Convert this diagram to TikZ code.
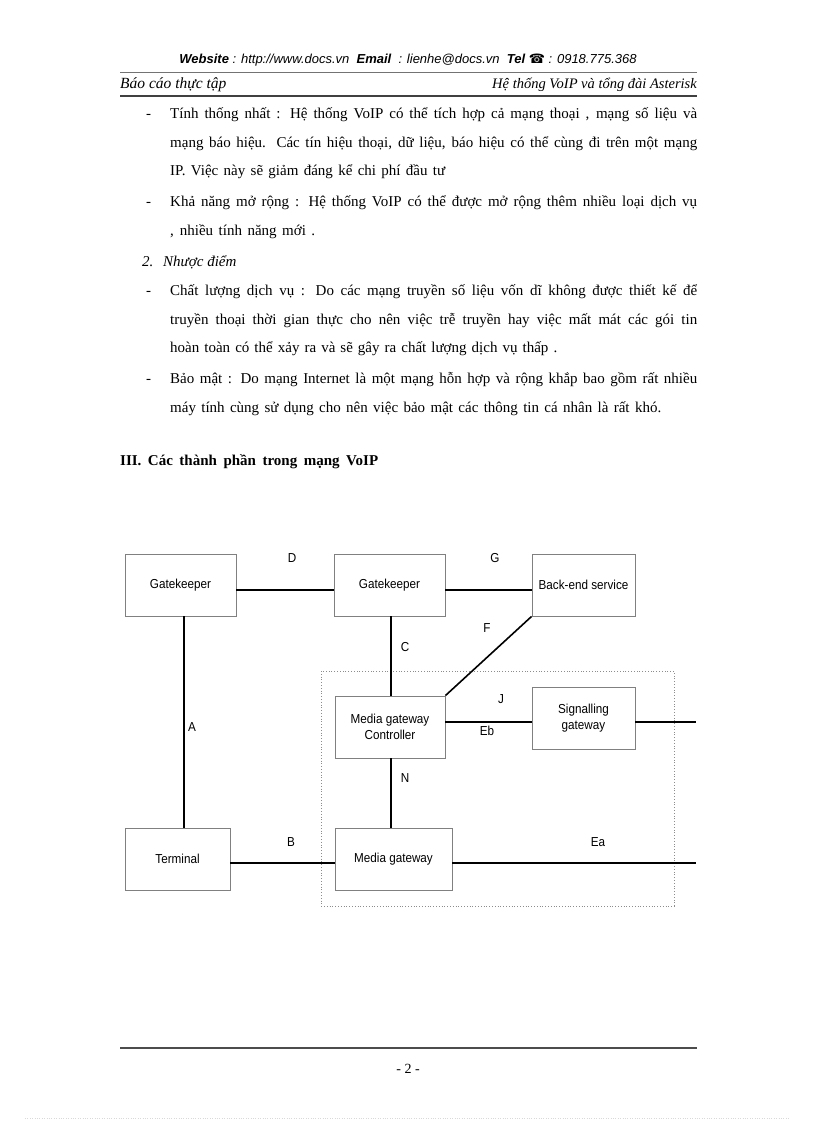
\documentclass[tikz,border=0pt]{standalone}
\usepackage{fontspec}
\setmainfont{Liberation Serif}
\newfontfamily\diagfont[FakeStretch=0.9]{Liberation Sans}
\newfontfamily\hdrfont{Liberation Sans}
\newfontfamily\symfont{DejaVu Sans}
\begin{document}
\begin{tikzpicture}[x=1pt,y=-1pt,
  body/.style={anchor=base west,inner sep=0pt,font=\fontsize{15}{17}\selectfont},
  box/.style={draw=black!50,line width=0.8pt,inner sep=0pt,align=center,minimum height=62pt,font=\diagfont\fontsize{13}{15.5}\selectfont},
  lab/.style={inner sep=0pt,font=\diagfont\fontsize{13}{14}\selectfont},
  link/.style={line width=1.6pt,black}]
\useasboundingbox (0,0) rectangle (816,1123);
% header
\node[inner sep=0pt,font=\hdrfont\fontsize{13}{15}\selectfont\itshape] (web) at (408,60)
 {\bfseries Website\mdseries\ : http://www.docs.vn\ \ \bfseries Email\mdseries\ \ : lienhe@docs.vn\ \ \bfseries Tel \symfont☎\hdrfont\mdseries\ : 0918.775.368};
\coordinate (r1a) at (120,72); \coordinate (r1b) at (697,72);
\draw[line width=0.8pt,black!55] (r1a) -- (r1b);
\node[body,font=\fontsize{15.5}{17}\selectfont\itshape] (hl) at (120,89) {Báo cáo thực tập};
\node[anchor=base east,inner sep=0pt,font=\fontsize{14.5}{17}\selectfont\itshape] (hr) at (697,89) {Hệ thống VoIP và tổng đài Asterisk};
\coordinate (r2a) at (120,96); \coordinate (r2b) at (697,96);
\draw[line width=1.5pt,black!75] (r2a) -- (r2b);
% body text
\node[body] (d1) at (146,119) {-};
\node[body] (t1) at (170,119) {\makebox[527pt][s]{Tính thống nhất : Hệ thống VoIP có thể tích hợp cả mạng thoại , mạng số liệu và}};
\node[body] (t2) at (170,148) {\makebox[527pt][s]{mạng báo hiệu. Các tín hiệu thoại, dữ liệu, báo hiệu có thể cùng đi trên một mạng}};
\node[body] (t3) at (170,176) {\makebox[275pt][s]{IP. Việc này sẽ giảm đáng kể chi phí đầu tư}};
\node[body] (d2) at (146,207) {-};
\node[body] (t4) at (170,207) {\makebox[527pt][s]{Khả năng mở rộng : Hệ thống VoIP có thể được mở rộng thêm nhiều loại dịch vụ}};
\node[body] (t5) at (170,236) {\makebox[145pt][s]{, nhiều tính năng mới .}};
\node[body,font=\fontsize{15}{17}\selectfont\itshape] (n2) at (142,266) {2.};
\node[body,font=\fontsize{15}{17}\selectfont\itshape] (t6) at (163,266) {Nhược điểm};
\node[body] (d3) at (146,295) {-};
\node[body] (t7) at (170,295) {\makebox[527pt][s]{Chất lượng dịch vụ : Do các mạng truyền số liệu vốn dĩ không được thiết kế để}};
\node[body] (t8) at (170,324) {\makebox[527pt][s]{truyền thoại thời gian thực cho nên việc trễ truyền hay việc mất mát các gói tin}};
\node[body] (t9) at (170,352) {\makebox[387pt][s]{hoàn toàn có thể xảy ra và sẽ gây ra chất lượng dịch vụ thấp .}};
\node[body] (d4) at (146,383) {-};
\node[body] (t10) at (170,383) {\makebox[527pt][s]{Bảo mật : Do mạng Internet là một mạng hỗn hợp và rộng khắp bao gồm rất nhiều}};
\node[body] (t11) at (170,412) {\makebox[491pt][s]{máy tính cùng sử dụng cho nên việc bảo mật các thông tin cá nhân là rất khó.}};
\node[body,font=\fontsize{15}{17}\selectfont\bfseries] (h3) at (120,465) {\makebox[258pt][s]{III. Các thành phần trong mạng VoIP}};
% diagram
\draw[black!45,line width=0.8pt,dotted] (321,671) rectangle (674,906);
\node[box,minimum width=111pt] (gk1) at (180.5,585) {Gatekeeper};
\node[box,minimum width=111pt] (gk2) at (389.5,585) {Gatekeeper};
\node[box,minimum width=103pt] (be) at (583.5,585) {Back-end service};
\node[box,minimum width=110pt] (mgc) at (390,727) {Media gateway\\Controller};
\node[box,minimum width=103pt] (sg) at (583.5,718) {Signalling\\gateway};
\node[box,minimum width=117pt] (mg) at (393.5,859) {Media gateway};
\node[box,minimum width=105pt] (term) at (177.5,859) {Terminal};
\coordinate (ax) at (184,0);
\coordinate (cx) at (391,0);
\coordinate (dy) at (0,590);
\coordinate (jy) at (0,722);
\coordinate (by) at (0,863);
\coordinate (sgout) at (696,722);
\coordinate (mgout) at (696,863);
\draw[link] (gk1.east |- dy) -- (gk2.west |- dy);
\draw[link] (gk2.east |- dy) -- (be.west |- dy);
\draw[link] (gk1.south -| ax) -- (term.north -| ax);
\draw[link] (gk2.south -| cx) -- (mgc.north -| cx);
\draw[link] (mgc.south -| cx) -- (mg.north -| cx);
\draw[link] (be.south west) -- (mgc.north east);
\draw[link] (mgc.east |- jy) -- (sg.west |- jy);
\draw[link] (sg.east |- jy) -- (sgout);
\draw[link] (term.east |- by) -- (mg.west |- by);
\draw[link] (mg.east |- by) -- (mgout);
\node[lab] (ld) at (292,558) {D};
\node[lab] (lg) at (495,558) {G};
\node[lab] (lc) at (405,647) {C};
\node[lab] (lf) at (487,628) {F};
\node[lab] (la) at (192,727) {A};
\node[lab] (lj) at (501,699) {J};
\node[lab] (leb) at (487,731) {Eb};
\node[lab] (ln) at (405,778) {N};
\node[lab] (lb) at (291,842) {B};
\node[lab] (lea) at (598,842) {Ea};
% footer
\coordinate (r3a) at (120,1048); \coordinate (r3b) at (697,1048);
\draw[line width=1.2pt,black!70] (r3a) -- (r3b);
\node[inner sep=0pt,font=\fontsize{14}{16}\selectfont] (pg) at (408,1069) {- 2 -};
\coordinate (bl1) at (25,1118); \coordinate (bl2) at (790,1118);
\draw[black!15,dotted] (bl1) -- (bl2);
\end{tikzpicture}
\end{document}
